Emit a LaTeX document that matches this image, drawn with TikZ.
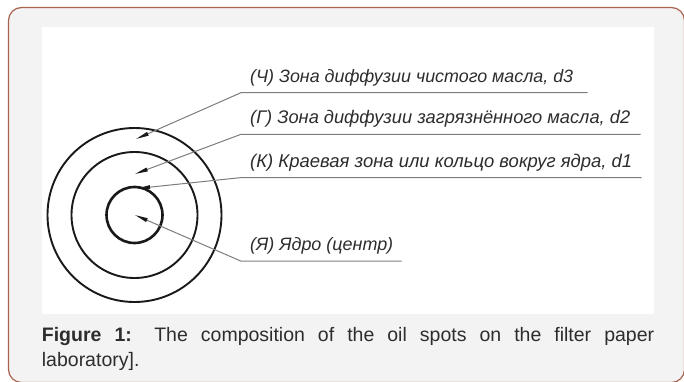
\documentclass[tikz,border=0pt]{standalone}
\usepackage{fontspec}
\setmainfont{Liberation Sans}
\usetikzlibrary{arrows.meta}
\definecolor{framebrown}{RGB}{168,98,78}
\definecolor{bggray}{RGB}{243,243,243}
\definecolor{leadgray}{RGB}{125,125,125}
\definecolor{inkc}{RGB}{25,25,25}
\definecolor{txtc}{RGB}{45,45,45}
\begin{document}
\begin{tikzpicture}[x=1pt,y=-1pt,
  ring/.style={circle,draw=inkc,line width=1.9pt,inner sep=0pt},
  core/.style={circle,draw=inkc,line width=2.6pt,inner sep=0pt},
  lead/.style={draw=leadgray,line width=1pt,-{Triangle[length=13pt,width=3.8pt,color=inkc]}},
  lab/.style={anchor=base west,inner sep=0pt,text=txtc,font=\fontsize{18.6}{20}\selectfont\itshape},
  captxt/.style={anchor=base west,inner sep=0pt,text=txtc,font=\fontsize{19.5}{24}\selectfont}]
\useasboundingbox (0,0) rectangle (684,382);
\draw[framebrown,line width=1.2pt,fill=bggray,rounded corners=13pt] (8.5,7.5) rectangle (684.5,382.5);
\fill[white] (41.7,26.7) rectangle (654,313.5);
% circles
\node[ring,minimum size=174pt] (outer) at (134.5,215) {};
\node[ring,minimum size=126pt] (middle) at (134.5,215) {};
\node[core,minimum size=56pt] (inner) at (134.5,215) {};
% leader geometry
\coordinate (eC) at (587.7,92.7);  \coordinate (kC) at (241,92.7);  \coordinate (aC) at (136,139);
\coordinate (eG) at (640.7,134.3); \coordinate (kG) at (241,134.3); \coordinate (aG) at (135,174);
\coordinate (eK) at (641.7,177.7); \coordinate (kK) at (240,177.7); \coordinate (aK) at (137,188.5);
\coordinate (eY) at (401.7,261);   \coordinate (kY) at (240.7,261); \coordinate (aY) at (135,215);
\draw[lead] (eC) -- (kC) -- (aC);
\draw[lead] (eG) -- (kG) -- (aG);
\draw[lead] (eK) -- (kK) -- (aK);
\draw[lead] (eY) -- (kY) -- (aY);
% labels
\node[lab] (tC) at (250,82.2) {\resizebox{323pt}{!}{(Ч) Зона диффузии чистого масла, d3}};
\node[lab] (tG) at (250,123.8) {\resizebox{380pt}{!}{(Г) Зона диффузии загрязнённого масла, d2}};
\node[lab] (tK) at (250,167.2) {\resizebox{382pt}{!}{(К) Краевая зона или кольцо вокруг ядра, d1}};
\node[lab] (tY) at (250,250.5) {\resizebox{143pt}{!}{(Я) Ядро (центр)}};
% caption
\node[captxt] (capA) at (41.7,341) {\makebox[612.3pt][s]{\textbf{Figure 1:} The composition of the oil spots on the filter paper}};
\node[captxt] (capB) at (41.7,366) {laboratory].};
\end{tikzpicture}
\end{document}
